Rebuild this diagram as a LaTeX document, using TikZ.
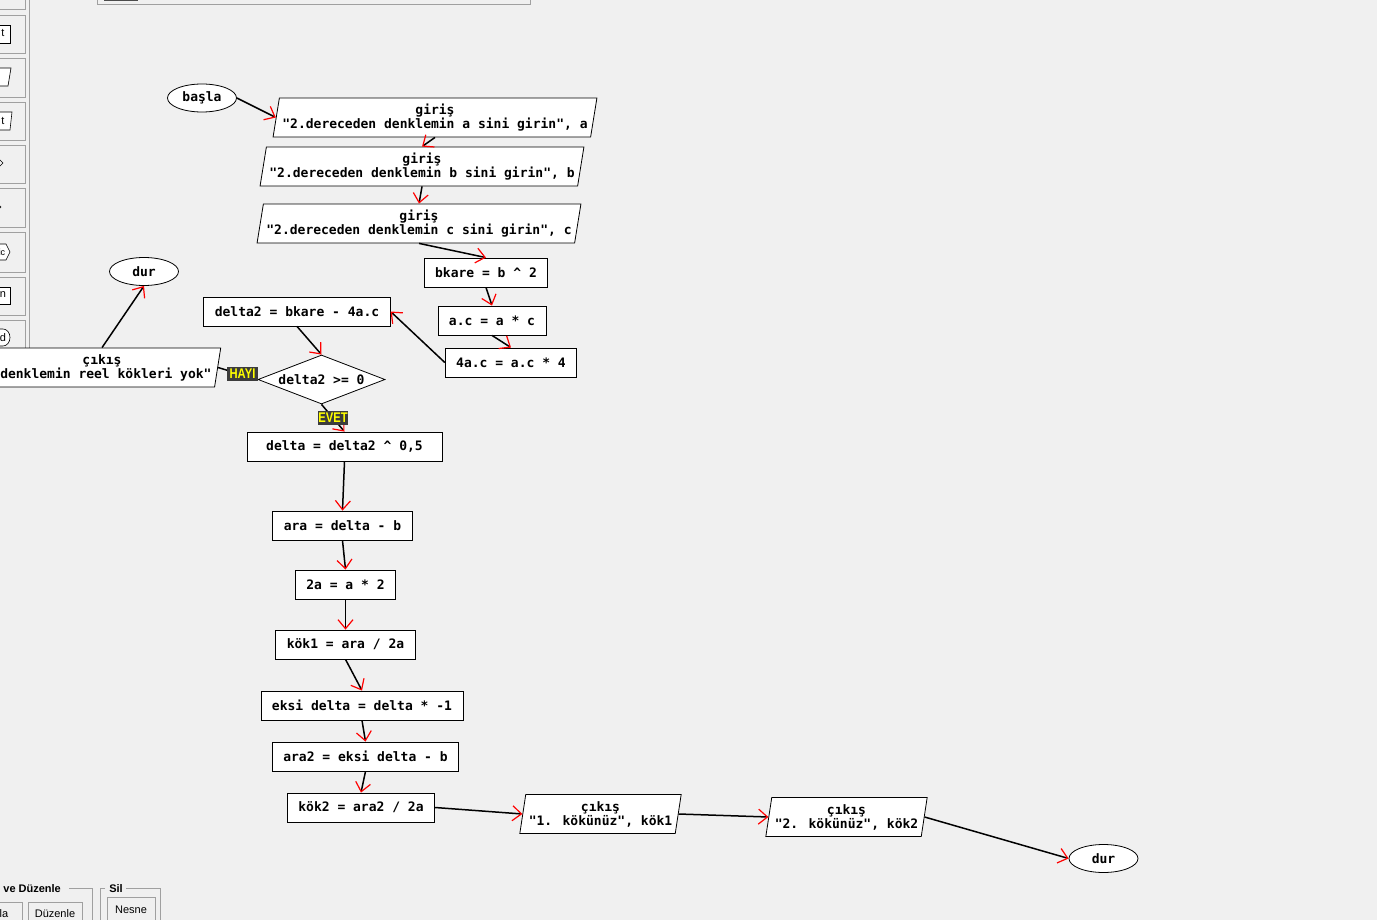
\documentclass[tikz,border=0pt]{standalone}
\usepackage{fontspec}
\setmainfont{Liberation Sans}
\newfontfamily\flowfont{DejaVu Sans Mono}
\newfontfamily\tagfont{Liberation Sans}[FakeStretch=0.8]
\usetikzlibrary{shapes.geometric,arrows.meta}
\definecolor{winbg}{HTML}{F0F0F0}
\definecolor{tagbg}{HTML}{3C3C3C}
\definecolor{tagfg}{HTML}{FFFF00}
\definecolor{frame}{HTML}{A0A0A0}

\begin{document}
\begin{tikzpicture}[x=1pt,y=-1pt,
	every node/.style={draw=black,line width=0.8pt,fill=white,align=center,
		font=\flowfont\bfseries\fontsize{13}{14}\selectfont},
	proc/.style={rectangle,minimum height=29pt,inner xsep=11pt,inner ysep=0pt},
	io/.style={trapezium,trapezium left angle=77,trapezium right angle=103,
		trapezium stretches body,minimum height=39pt,inner xsep=3pt,inner ysep=0pt},
	term/.style={ellipse,minimum width=69pt,minimum height=28pt,inner sep=0pt},
	dec/.style={diamond,aspect=2.6,minimum width=127pt,minimum height=49pt,inner sep=0pt},
	tag/.style={draw=none,fill=tagbg,text=tagfg,inner xsep=0pt,inner ysep=0pt,
		minimum height=14pt,font=\tagfont\bfseries\fontsize{14}{14}\selectfont},
	flow/.style={black,line width=1.5pt,
		-{Straight Barb[red,length=9pt,width=15pt,line width=1.2pt]}},
	btn/.style={draw=frame,line width=0.8pt,fill=winbg},
	ui/.style={draw=none,fill=none,inner sep=0pt,font=\fontsize{11}{11}\selectfont}]

	\useasboundingbox (0,0) rectangle (1377,920);
	\fill[winbg] (0,0) rectangle (1377,920);

	% window parts round the drawing area
	\draw[frame,line width=1pt] (97,-5) rectangle (530,5);
	\draw[black!70,line width=1.5pt] (104,0) -- (138,0);
	\draw[frame,line width=1pt] (29,0) -- (29,348);
	\draw[btn] (-3,-5) rectangle (25,9);
	\draw[btn] (-3,15) rectangle (25,53);
	\draw[btn] (-3,58) rectangle (25,97);
	\draw[btn] (-3,102) rectangle (25,140);
	\draw[btn] (-3,145) rectangle (25,183);
	\draw[btn] (-3,188) rectangle (25,227);
	\draw[btn] (-3,232) rectangle (25,272);
	\draw[btn] (-3,277) rectangle (25,315);
	\draw[btn] (-3,320) rectangle (25,352);
	\draw[fill=white,line width=0.6pt] (-3,25) rectangle (10,43);
	\node[ui] (ic1) at (3,33) {t};
	\draw[fill=white,line width=0.6pt] (-3,68) -- (11,68) -- (8,86) -- (-3,86);
	\draw[fill=white,line width=0.6pt] (-3,112) -- (12,112) -- (10,130) -- (-3,130);
	\node[ui] (ic2) at (3,121) {t};
	\draw[line width=0.6pt] (-3,157) -- (3,163) -- (-3,169);
	\draw[line width=0.6pt] (-3,203) -- (1,207) -- (-3,211);
	\draw[fill=white,line width=0.6pt] (-3,244) -- (6,244) -- (10,252) -- (6,260) -- (-3,260);
	\node[ui,font=\fontsize{9}{9}\selectfont] (ic3) at (2,252) {ic};
	\draw[fill=white,line width=0.6pt] (-3,287) rectangle (10,304);
	\node[ui] (ic4) at (3,295) {n};
	\draw[fill=white,line width=0.6pt] (-3,329) -- (3,329) arc (-90:90:7 and 8.5) -- (-3,346);
	\node[ui] (ic5) at (3,337.5) {d};

	\draw[frame,line width=0.8pt] (69,888) -- (92,888) -- (92,925);
	\node[ui,font=\bfseries\fontsize{11}{11}\selectfont,anchor=west] (grp1) at (3,889) {ve Düzenle};
	\draw[btn] (-5,902) rectangle (22,925);
	\node[ui] (b1) at (4,914) {la};
	\draw[btn] (28,902) rectangle (82,925);
	\node[ui] (b2) at (55,914) {Düzenle};
	\draw[frame,line width=0.8pt] (105,888) -- (100,888) -- (100,925);
	\draw[frame,line width=0.8pt] (126,888) -- (160,888) -- (160,925);
	\node[ui,font=\bfseries\fontsize{11}{11}\selectfont] (grp2) at (116,889) {Sil};
	\draw[btn] (107,897) rectangle (155,925);
	\node[ui] (b3) at (131,910) {Nesne};

	% flowchart
	\node[term] (bas) at (202,98) {başla};
	\node[io] (ga) at (435,117.5) {giriş\\"2.dereceden denklemin a sini girin", a};
	\node[io] (gb) at (422,166.5) {giriş\\"2.dereceden denklemin b sini girin", b};
	\node[io] (gc) at (419,223.5) {giriş\\"2.dereceden denklemin c sini girin", c};
	\node[proc] (bk) at (486,272.5) {bkare = b \textasciicircum{} 2};
	\node[proc] (ac) at (492,320.5) {a.c = a * c};
	\node[proc] (ac4) at (511,362.5) {4a.c = a.c * 4};
	\node[proc] (d2) at (297,311.5) {delta2 = bkare - 4a.c};
	\node[dec] (q) at (321.5,379.5) {delta2 >= 0};
	\node[io] (no) at (102,367.5) {çıkış\\"denklemin reel kökleri yok"};
	\node[term] (dur1) at (144,271.5) {dur};
	\node[proc,minimum width=195pt] (d) at (344.5,446.5) {delta = delta2 \textasciicircum{} 0,5};
	\node[proc] (ara) at (342.5,525.5) {ara = delta - b};
	\node[proc] (a2) at (345.5,584.5) {2a = a * 2};
	\node[proc] (k1) at (345.5,644.5) {kök1 = ara / 2a};
	\node[proc] (ed) at (362,705.5) {eksi delta = delta * -1};
	\node[proc] (ara2) at (365.5,756.5) {ara2 = eksi delta - b};
	\node[proc] (k2) at (361,807.5) {kök2 = ara2 / 2a};
	\node[io] (o1) at (600.5,814) {çıkış\\"1. kökünüz", kök1};
	\node[io] (o2) at (846.5,817) {çıkış\\"2. kökünüz", kök2};
	\node[term] (dur2) at (1103.5,858.5) {dur};

	\draw[flow] (bas.east) -- (ga.west);
	\draw[flow] (ga.south) -- (gb.north);
	\draw[flow] (gb.south) -- (gc.north);
	\draw[flow] (gc.south) -- (bk.north);
	\draw[flow] (bk.south) -- (ac.north);
	\draw[flow] (ac.south) -- (ac4.north);
	\draw[flow] (ac4.west) -- (d2.east);
	\draw[flow] (d2.south) -- (q.north);
	\draw[black,line width=1.5pt] (q.west) -- (no.east);
	\draw[flow] (no.north) -- (dur1.south);
	\draw[flow] (q.south) -- (d.north);
	\draw[flow] (d.south) -- (ara.north);
	\draw[flow] (ara.south) -- (a2.north);
	\draw[flow] (a2.south) -- (k1.north);
	\draw[flow] (k1.south) -- (ed.north);
	\draw[flow] (ed.south) -- (ara2.north);
	\draw[flow] (ara2.south) -- (k2.north);
	\draw[flow] (k2.east) -- (o1.west);
	\draw[flow] (o1.east) -- (o2.west);
	\draw[flow] (o2.east) -- (dur2.west);

	\node[tag,minimum width=31pt] (hayir) at (242.5,374) {HAYI};
	\node[tag,minimum width=30pt] (evet) at (333,418) {EVET};

\end{tikzpicture}
\end{document}
